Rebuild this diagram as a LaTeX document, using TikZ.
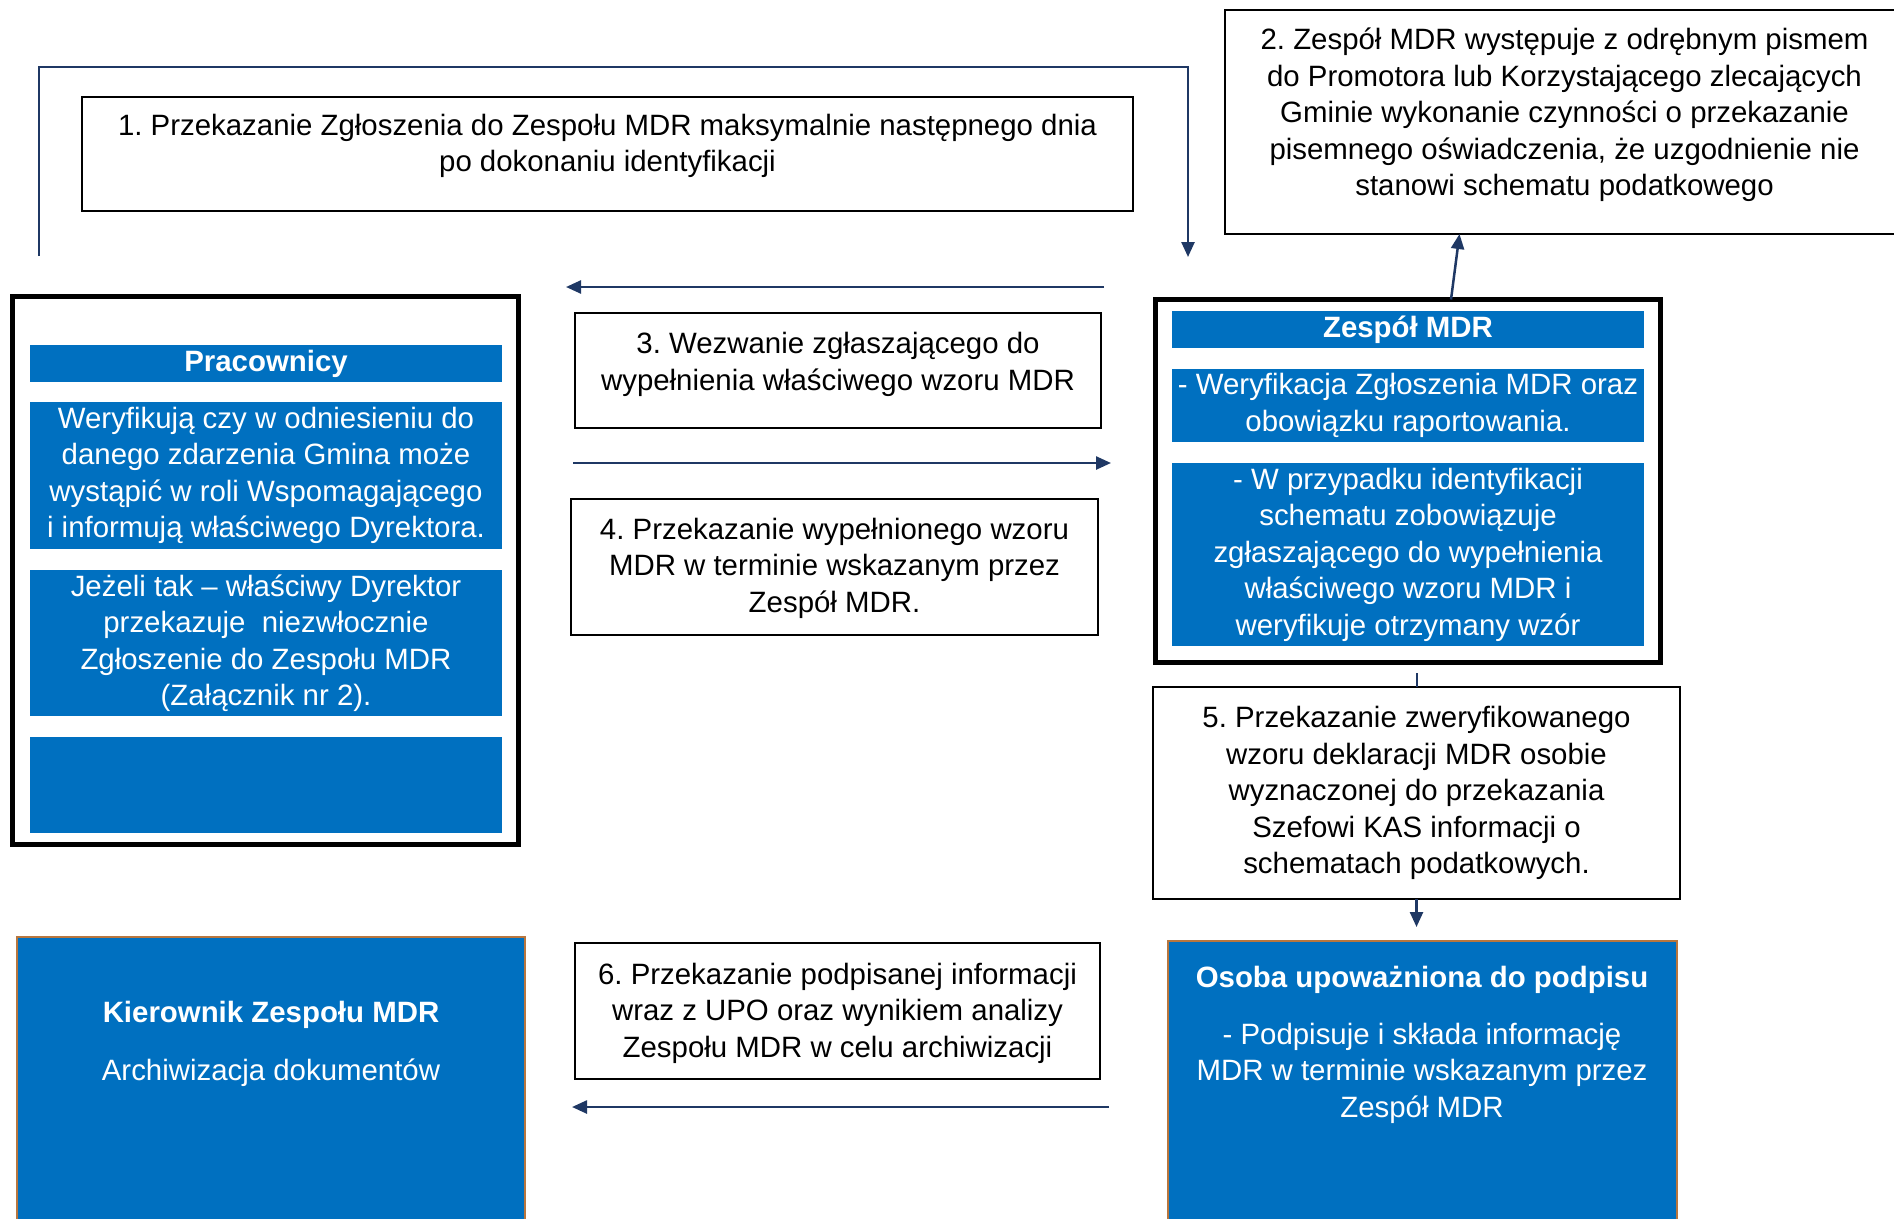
\documentclass[tikz,border=0pt]{standalone}
\usepackage{fontspec}
\setmainfont{Liberation Sans}
\usepackage{xcolor}
\usetikzlibrary{arrows.meta, positioning}
\frenchspacing
\definecolor{mdrblue}{HTML}{0070C0}
\definecolor{granat}{HTML}{1F3864}
\definecolor{brzeg}{HTML}{B8763E}
\tikzstyle{txt}=[align=center, inner sep=0pt, outer sep=0pt, font=\fontsize{29.4}{36.5}\selectfont]
\tikzstyle{ramka}=[draw, line width=5pt, inner sep=0pt, outer sep=0pt, anchor=north west]
\tikzstyle{krok}=[draw, line width=2pt, inner sep=0pt, outer sep=0pt, anchor=north west]
\tikzstyle{pole}=[txt, fill=mdrblue, text=white, minimum width=472pt, anchor=north west]
\tikzstyle{duze}=[fill=mdrblue, draw=brzeg, line width=1.5pt, inner sep=0pt, outer sep=0pt, minimum height=300pt, anchor=north west]
\tikzstyle{strz}=[draw=granat, line width=2.5pt, -{Triangle[length=15pt, width=13pt]}]
\tikzstyle{linia}=[draw=granat, line width=2pt]

\begin{document}
\begin{tikzpicture}[x=1pt, y=-1pt]
\useasboundingbox (0,0) rectangle (1894,1218);

% Pracownicy
\node[ramka, minimum width=506pt, minimum height=548pt] (pracownicy) at (12,296) {};
\node[pole, minimum height=37pt] (p0) at (30,345) {\textbf{Pracownicy}};
\node[pole, minimum height=147pt] (p1) at (30,402) {Weryfikują czy w odniesieniu do\\danego zdarzenia Gmina może\\wystąpić w roli Wspomagającego\\i informują właściwego Dyrektora.};
\node[pole, minimum height=146pt] (p2) at (30,570) {Jeżeli tak – właściwy Dyrektor\\przekazuje \ niezwłocznie\\Zgłoszenie do Zespołu MDR\\(Załącznik nr 2).};
\node[pole, minimum height=96pt] (p3) at (30,737) {};

% Zespol MDR
\node[ramka, minimum width=505pt, minimum height=363pt] (zespol) at (1155.5,299.5) {};
\node[pole, minimum height=37pt] (z0) at (1172,311) {\textbf{Zespół MDR}};
\node[pole, minimum height=73pt] (z1) at (1172,369) {- Weryfikacja Zgłoszenia MDR oraz\\obowiązku raportowania.};
\node[pole, minimum height=183pt] (z2) at (1172,463) {- W przypadku identyfikacji\\schematu zobowiązuje\\zgłaszającego do wypełnienia\\właściwego wzoru MDR i\\weryfikuje otrzymany wzór};

% Kroki
\node[krok, minimum width=1051pt, minimum height=114pt] (k1) at (82,97) {};
\node[txt] (t1) at ([yshift=8pt]k1.center) {1. Przekazanie Zgłoszenia do Zespołu MDR maksymalnie następnego dnia\\po dokonaniu identyfikacji};
\node[krok, minimum width=679pt, minimum height=224pt] (k2) at (1225,10) {};
\node[txt] (t2) at ([yshift=7pt]k2.center) {2. Zespół MDR występuje z odrębnym pismem\\do Promotora lub Korzystającego zlecających\\Gminie wykonanie czynności o przekazanie\\pisemnego oświadczenia, że uzgodnienie nie\\stanowi schematu podatkowego};
\node[krok, minimum width=526pt, minimum height=115pt] (k3) at (575,313) {};
\node[txt] (t3) at ([yshift=6pt]k3.center) {3. Wezwanie zgłaszającego do\\wypełnienia właściwego wzoru MDR};
\node[krok, minimum width=527pt, minimum height=136pt] (k4) at (571,499) {};
\node[txt] (t4) at ([yshift=-1pt]k4.center) {4. Przekazanie wypełnionego wzoru\\MDR w terminie wskazanym przez\\Zespół MDR.};
\node[krok, minimum width=527pt, minimum height=212pt] (k5) at (1153,687) {};
\node[txt] (t5) at (k5.center) {5. Przekazanie zweryfikowanego\\wzoru deklaracji MDR osobie\\wyznaczonej do przekazania\\Szefowi KAS informacji o\\schematach podatkowych.};
\node[krok, minimum width=525pt, minimum height=136pt] (k6) at (575,943) {};
\node[txt] (t6) at ([yshift=-2pt]k6.center) {6. Przekazanie podpisanej informacji\\wraz z UPO oraz wynikiem analizy\\Zespołu MDR w celu archiwizacji};

% Kierownik i osoba upowazniona
\node[duze, minimum width=508pt] (kierownik) at (17,937) {};
\node[txt, text=white] (tk) at (271,1044) {\textbf{Kierownik Zespołu MDR}\\[21.5pt]Archiwizacja dokumentów};
\node[duze, minimum width=509pt] (osoba) at (1168,941) {};
\node[txt, text=white] (to) at (1422,1045) {\textbf{Osoba upoważniona do podpisu}\\[20pt]- Podpisuje i składa informację\\MDR w terminie wskazanym przez\\Zespół MDR};

% Strzalki
\coordinate (a1s) at (39,256);
\coordinate (a1e) at (1188,257);
\coordinate (a3s) at (1104,287);
\coordinate (a3e) at (566,287);
\coordinate (a4s) at (573,463);
\coordinate (a4e) at (1111,463);
\coordinate (a6s) at (1109,1107);
\coordinate (a6e) at (572,1107);

\draw[strz] (a1s) -- ++(0,-189) -| (a1e);
\draw[strz] ([xshift=43pt]zespol.north) -- ([xshift=-105pt]k2.south);
\draw[strz] (a3s) -- (a3e);
\draw[strz] (a4s) -- (a4e);
\draw[linia] (k5.north) -- ++(0,-14);
\draw[strz] (k5.south) -- ++(0,28);
\draw[strz] (a6s) -- (a6e);

\end{tikzpicture}
\end{document}
